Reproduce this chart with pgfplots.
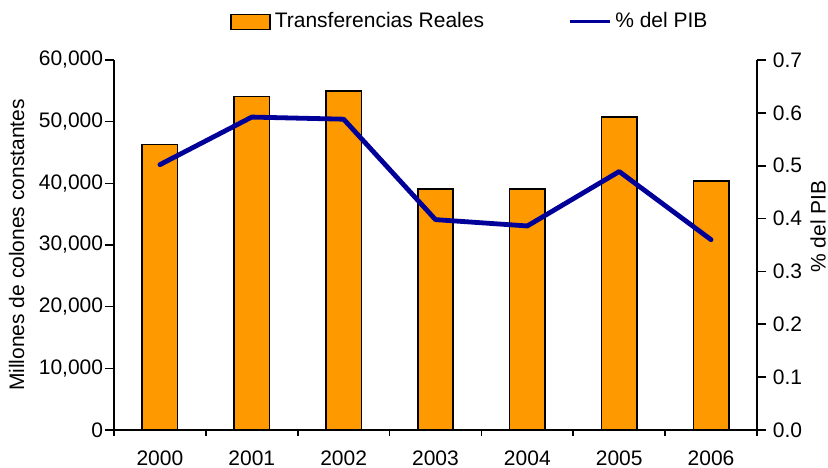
\documentclass[border=0pt]{standalone}
\usepackage{pgfplots}
\pgfplotsset{compat=1.18}
\usetikzlibrary{calc}
\usepackage{fontspec}
\setmainfont{Liberation Sans}
\definecolor{barfill}{HTML}{FF9900}
\definecolor{pib}{HTML}{000099}
\pgfplotsset{
  barleg/.style={legend image code/.code={\draw[##1] (0pt,-3.75pt) rectangle (19.5pt,3.75pt);}},
  lineleg/.style={legend image code/.code={\draw[##1] (0pt,0pt) -- (20pt,0pt);}},
}

\begin{document}
\fontsize{10.5}{12.5}\selectfont
\begin{tikzpicture}
\pgfplotsset{
  base/.style={
    scale only axis, width=321.5pt, height=185pt,
    xmin=-0.5, xmax=6.5, ymin=0,
    axis line style={line width=1pt},
    tick style={black, line width=0.8pt},
    tick align=outside,
    /pgf/number format/assume math mode=true,
    tick label style={font=\fontsize{10.5}{12.5}\selectfont},
    label style={font=\fontsize{10.5}{12.5}\selectfont},
  }
}
\begin{axis}[base, name=main,
    ymax=60000,
    axis y line*=left, axis x line*=bottom,
    x axis line style={shorten <=-3.5pt},
    ybar, bar width=17.75pt,
    xtick={0,...,6},
    xticklabels={2000,2001,2002,2003,2004,2005,2006},
    major x tick style={draw=none},
    minor xtick={-0.5,0.5,1.5,2.5,3.5,4.5,5.5,6.5},
    xticklabel style={yshift=-2.5pt},
    ytick={0,10000,20000,30000,40000,50000,60000},
    scaled y ticks=false,
    yticklabel style={xshift=2.5pt, /pgf/number format/.cd, fixed, 1000 sep={,}},
    ylabel={Millones de colones constantes},
    legend style={at={(0.555,1.103)}, anchor=center, draw=none,
      legend columns=2, font=\fontsize{10.5}{12.5}\selectfont,
      /tikz/every even column/.append style={column sep=40pt}},
  ]
\addplot[fill=barfill, draw=black, line width=0.8pt, barleg]
  coordinates {(0,46300) (1,54100) (2,55000) (3,39100) (4,39100) (5,50800) (6,40400)};
\addlegendentry{Transferencias Reales}
\addlegendimage{pib, line width=1.6pt, lineleg}
\addlegendentry{\% del PIB}
\end{axis}

\begin{axis}[base,
    ymax=0.7,
    axis y line*=right, axis x line=none,
    ytick={0,0.1,0.2,0.3,0.4,0.5,0.6,0.7},
    yticklabel style={/pgf/number format/.cd, fixed, fixed zerofill, precision=1},
    ylabel={\% del PIB},
    ylabel style={at={(ticklabel cs:0.55,-3pt)}},
  ]
\addplot[pib, line width=2.4pt, line join=round, line cap=round]
  coordinates {(0,0.502) (1,0.592) (2,0.588) (3,0.398) (4,0.386) (5,0.489) (6,0.360)};
\end{axis}
\pgfresetboundingbox
\path ($(main.south west)+(-57pt,-19pt)$) rectangle ($(main.north east)+(35.5pt,30pt)$);
\end{tikzpicture}
\end{document}
